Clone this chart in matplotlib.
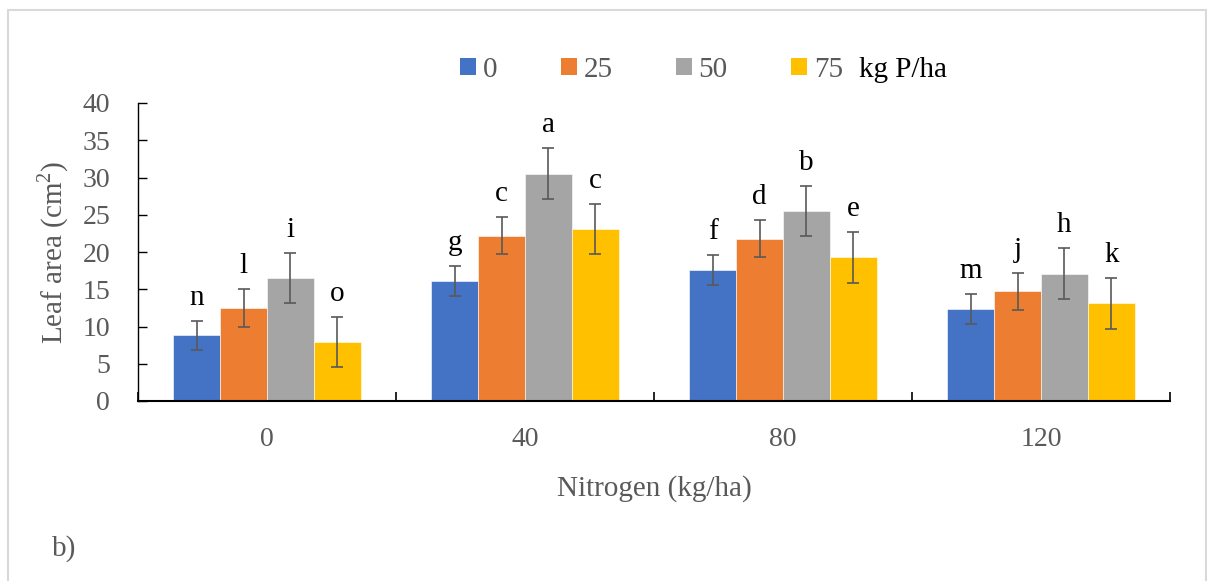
import matplotlib
matplotlib.use("Agg")
import matplotlib.pyplot as plt
import numpy as np
from matplotlib.patches import Patch, Rectangle
from matplotlib.ticker import FixedLocator

# Data
nitrogen = ["0", "40", "80", "120"]
phosphorus = ["0", "25", "50", "75"]
p0_mean = [8.8, 16.1, 17.6, 12.3]
p25_mean = [12.5, 22.2, 21.8, 14.7]
p50_mean = [16.5, 30.5, 25.5, 17.1]
p75_mean = [7.9, 23.1, 19.3, 13.1]
p0_err = [2.0, 2.0, 2.0, 2.0]
p25_err = [2.5, 2.5, 2.5, 2.5]
p50_err = [3.4, 3.4, 3.4, 3.4]
p75_err = [3.4, 3.4, 3.4, 3.4]
p0_letters = ["n", "g", "f", "m"]
p25_letters = ["l", "c", "d", "j"]
p50_letters = ["i", "a", "b", "h"]
p75_letters = ["o", "c", "e", "k"]

means = [p0_mean, p25_mean, p50_mean, p75_mean]
errs = [p0_err, p25_err, p50_err, p75_err]
letters = [p0_letters, p25_letters, p50_letters, p75_letters]
colors = ["#4472C4", "#ED7D31", "#A5A5A5", "#FFC000"]

plt.rcParams["font.family"] = ["Liberation Serif", "DejaVu Serif"]
plt.rcParams["mathtext.fontset"] = "custom"
plt.rcParams["mathtext.rm"] = "Liberation Serif"

TXT = "#595959"
W, H = 1207, 581
fig = plt.figure(figsize=(W / 100, H / 100), dpi=100)
ax = fig.add_axes([138 / W, 1 - 401 / H, (1170 - 138) / W, (401 - 103) / H])

x = np.arange(len(nitrogen))
bw = 0.182
for i, (m, e, lab, c) in enumerate(zip(means, errs, letters, colors)):
    pos = x + (i - 1.5) * bw
    ax.bar(pos, m, width=bw, color=c, edgecolor="white", linewidth=0.4, zorder=2)
    ax.errorbar(pos, m, yerr=e, fmt="none", ecolor=TXT, elinewidth=1.2,
                capsize=4.5, capthick=1.2, zorder=3)
    for px, top, t in zip(pos, np.array(m) + np.array(e), lab):
        ax.annotate(t, (px, top), xytext=(0, 11.5), textcoords="offset points",
                    ha="center", va="baseline", fontsize=21, color="black")

ax.set_xlim(-0.5, 3.5)
ax.set_ylim(0, 40)
ax.set_yticks(np.arange(0, 41, 5))
ax.set_xticks(x)
ax.set_xticklabels(nitrogen)
ax.xaxis.set_minor_locator(FixedLocator(np.arange(-0.5, 3.6, 1)))
ax.tick_params(axis="x", which="major", length=0, pad=19, labelsize=20, labelcolor=TXT)
ax.tick_params(axis="x", which="minor", direction="in", length=6.5, width=1.2, color="black")
ax.tick_params(axis="y", direction="in", length=6.5, width=1.0, pad=20,
               labelsize=20, labelcolor=TXT, color="black")
for s in ["top", "right"]:
    ax.spines[s].set_visible(False)
ax.spines["left"].set_linewidth(1.0)
ax.spines["bottom"].set_linewidth(1.5)
ax.spines["bottom"].set_color("black")
ax.spines["left"].set_color("black")

ax.set_ylabel("Leaf area (cm$^{2}$)", fontsize=21, color=TXT, labelpad=8)
ax.set_xlabel("Nitrogen (kg/ha)", fontsize=21, color=TXT, labelpad=16)

fs = 21
fs_px = fs * 100 / 72
handles = [Patch(facecolor=c, edgecolor="none") for c in colors]
fig.legend(handles, phosphorus, loc="center left",
           bbox_to_anchor=(460 / W, 1 - 70 / H), bbox_transform=fig.transFigure,
           ncol=4, frameon=False, fontsize=fs, labelcolor=TXT,
           handlelength=16 / fs_px, handleheight=16 / fs_px,
           handletextpad=7 / fs_px, columnspacing=63 / fs_px,
           borderpad=0, borderaxespad=0)
fig.text(859 / W, 1 - 70 / H, "kg P/ha", fontsize=fs, color="black", va="center", ha="left")

fig.text(52 / W, 1 - 549 / H, "b)", fontsize=21, color=TXT, va="center", ha="left")

fig.add_artist(Rectangle((8 / W, -0.05), (1206 - 8) / W, 1.05 - 10 / H,
                         transform=fig.transFigure, fill=False,
                         edgecolor="#d9d9d9", linewidth=1.5))

fig.savefig("out.png", dpi=100)
